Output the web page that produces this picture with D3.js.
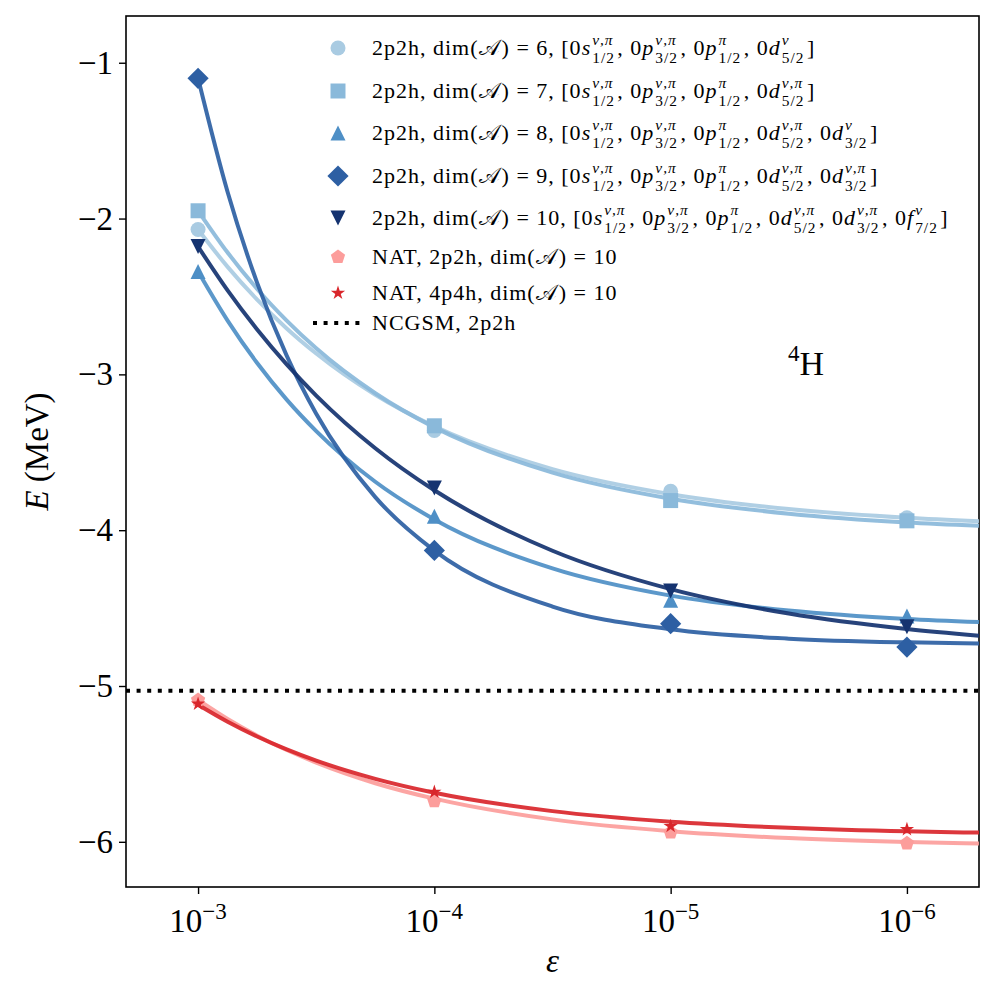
<!DOCTYPE html>
<html>
<head>
<meta charset="utf-8">
<title>4H energy vs epsilon</title>
<script src="https://cdn.jsdelivr.net/npm/d3@7"></script>
<style>
  body { margin: 0; background: #fff; }
  text { font-family: "Liberation Serif", "DejaVu Serif", serif; fill: #000; white-space: pre; }
</style>
</head>
<body>
<div id="chart"></div>
<script>
// ---- values ----
// computed points, at epsilon = 1e-3 .. 1e-6
const epsLog = [-3, -4, -5, -6];
const dim6  = [-2.07, -3.36, -3.75, -3.92];
const dim7  = [-1.95, -3.33, -3.81, -3.94];
const dim8  = [-2.34, -3.91, -4.45, -4.55];
const dim9  = [-1.10, -4.13, -4.60, -4.75];
const dim10 = [-2.18, -3.73, -4.39, -4.62];
const natA  = [-5.09, -5.74, -5.94, -6.01];
const natB  = [-5.115, -5.68, -5.90, -5.92];
const ncgsm = -5.03;

// fitted curves, sampled where they were read
const fitLog   = [-3, -3.125, -3.25, -3.375, -3.5, -3.75, -4, -4.5, -5, -5.5, -6, -6.305];
const fit6     = [-2.07, -2.31, -2.52, -2.705, -2.866, -3.131, -3.334, -3.608, -3.769, -3.864, -3.92, -3.942];
const fit7     = [-1.95, -2.218, -2.452, -2.655, -2.833, -3.121, -3.34, -3.631, -3.798, -3.894, -3.95, -3.971];
const fit8     = [-2.34, -2.655, -2.927, -3.162, -3.364, -3.689, -3.931, -4.245, -4.42, -4.516, -4.57, -4.59];
const fit9     = [-1.10, -1.83, -2.413, -2.88, -3.253, -3.788, -4.131, -4.49, -4.636, -4.696, -4.72, -4.727];
const fit10    = [-2.18, -2.461, -2.712, -2.936, -3.136, -3.474, -3.744, -4.132, -4.378, -4.535, -4.634, -4.677];
const fitNatA  = [-5.09, -5.212, -5.319, -5.411, -5.492, -5.624, -5.723, -5.856, -5.932, -5.976, -6.001, -6.011];
const fitNatB  = [-5.12, -5.229, -5.324, -5.407, -5.479, -5.596, -5.685, -5.803, -5.871, -5.91, -5.933, -5.941];

const yTicks = [-1, -2, -3, -4, -5, -6];
const xTicks = [-3, -4, -5, -6];

// {letter|sup|sub} is an orbital, @A the calligraphic A
const labels = [
  "2p2h, dim(@A) = 6, [0{s|ν,π|1/2}, 0{p|ν,π|3/2}, 0{p|π|1/2}, 0{d|ν|5/2}]",
  "2p2h, dim(@A) = 7, [0{s|ν,π|1/2}, 0{p|ν,π|3/2}, 0{p|π|1/2}, 0{d|ν,π|5/2}]",
  "2p2h, dim(@A) = 8, [0{s|ν,π|1/2}, 0{p|ν,π|3/2}, 0{p|π|1/2}, 0{d|ν,π|5/2}, 0{d|ν|3/2}]",
  "2p2h, dim(@A) = 9, [0{s|ν,π|1/2}, 0{p|ν,π|3/2}, 0{p|π|1/2}, 0{d|ν,π|5/2}, 0{d|ν,π|3/2}]",
  "2p2h, dim(@A) = 10, [0{s|ν,π|1/2}, 0{p|ν,π|3/2}, 0{p|π|1/2}, 0{d|ν,π|5/2}, 0{d|ν,π|3/2}, 0{f|ν|7/2}]",
  "NAT, 2p2h, dim(@A) = 10",
  "NAT, 4p4h, dim(@A) = 10"
];
const refLabel = "NCGSM, 2p2h";

const colors = ["#a9cbe2", "#8ab9da", "#4e8fc6", "#2d5fa3", "#153370", "#fc9d9b", "#d9262b"];
const shapes = ["circle", "square", "triangle", "diamond", "tridown", "pentagon", "star"];

const series = [dim6, dim7, dim8, dim9, dim10, natA, natB].map((pts, i) => ({
  pts: pts,
  fit: [fit6, fit7, fit8, fit9, fit10, fitNatA, fitNatB][i],
  color: colors[i],
  shape: shapes[i],
  label: labels[i]
}));

// ---- layout ----
const width = 997, height = 997;
const plot = {left: 126, right: 979, top: 16, bottom: 887};

const svg = d3.select("#chart").append("svg")
    .attr("width", width)
    .attr("height", height);

const x = d3.scaleLog()
    .domain([Math.pow(10, -2.695), Math.pow(10, -6.305)])
    .range([plot.left, plot.right]);
const y = d3.scaleLinear()
    .domain([-0.70, -6.29])
    .range([plot.top, plot.bottom]);

function markerPath(shape, s) {
  const p = d3.path();
  if (shape === "circle") {
    p.arc(0, 0, s, 0, 2 * Math.PI);
  } else if (shape === "square") {
    p.rect(-s, -s, 2 * s, 2 * s);
  } else if (shape === "triangle") {
    p.moveTo(0, -s); p.lineTo(s, s); p.lineTo(-s, s); p.closePath();
  } else if (shape === "tridown") {
    p.moveTo(0, s); p.lineTo(s, -s); p.lineTo(-s, -s); p.closePath();
  } else if (shape === "diamond") {
    const d = s * Math.SQRT2;
    p.moveTo(0, -d); p.lineTo(d, 0); p.lineTo(0, d); p.lineTo(-d, 0); p.closePath();
  } else if (shape === "pentagon") {
    for (let k = 0; k < 5; k++) {
      const a = -Math.PI / 2 + k * 2 * Math.PI / 5;
      k === 0 ? p.moveTo(s * Math.cos(a), s * Math.sin(a)) : p.lineTo(s * Math.cos(a), s * Math.sin(a));
    }
    p.closePath();
  } else if (shape === "star") {
    for (let k = 0; k < 10; k++) {
      const a = -Math.PI / 2 + k * Math.PI / 5;
      const r = k % 2 === 0 ? s : s * 0.381966;
      k === 0 ? p.moveTo(r * Math.cos(a), r * Math.sin(a)) : p.lineTo(r * Math.cos(a), r * Math.sin(a));
    }
    p.closePath();
  }
  return p.toString();
}

// ---- axes ----
const yAxis = d3.axisLeft(y)
    .tickValues(yTicks)
    .tickSize(7)
    .tickPadding(6)
    .tickFormat(d => "\u2212" + Math.abs(d));
const yG = svg.append("g")
    .attr("transform", `translate(${plot.left},0)`)
    .call(yAxis);
yG.select(".domain").remove();
yG.selectAll(".tick line").attr("stroke", "#000").attr("stroke-width", 1.4);
yG.selectAll(".tick text")
    .attr("fill", "#000")
    .style("font-size", "33px")
    .style("font-family", "'Liberation Serif', serif");

const xAxis = d3.axisBottom(x)
    .tickValues(xTicks.map(e => Math.pow(10, e)))
    .tickSize(7)
    .tickFormat("");
const xG = svg.append("g")
    .attr("transform", `translate(0,${plot.bottom})`)
    .call(xAxis);
xG.select(".domain").remove();
xG.selectAll(".tick line").attr("stroke", "#000").attr("stroke-width", 1.4);

xTicks.forEach(e => {
  const t = svg.append("text")
      .attr("x", x(Math.pow(10, e)))
      .attr("y", 932)
      .attr("text-anchor", "middle")
      .style("font-size", "33px");
  t.append("tspan").text("10");
  t.append("tspan")
      .attr("dy", -13)
      .style("font-size", "23px")
      .text("\u2212" + Math.abs(e));
});

// frame
svg.append("rect")
    .attr("x", plot.left)
    .attr("y", plot.top)
    .attr("width", plot.right - plot.left)
    .attr("height", plot.bottom - plot.top)
    .attr("fill", "none")
    .attr("stroke", "#000")
    .attr("stroke-width", 1.6);

// axis labels
svg.append("text")
    .attr("x", (plot.left + plot.right) / 2)
    .attr("y", 972)
    .attr("text-anchor", "middle")
    .style("font-size", "33px")
    .style("font-style", "italic")
    .text("\u03b5");

const yl = svg.append("text")
    .attr("transform", `translate(48,${(plot.top + plot.bottom) / 2}) rotate(-90)`)
    .attr("text-anchor", "middle")
    .style("font-size", "33px");
yl.append("tspan").style("font-style", "italic").text("E");
yl.append("tspan").text(" (MeV)");

// ---- curves and points ----
const plotG = svg.append("g");

const line = d3.line()
    .x(d => x(Math.pow(10, d[0])))
    .y(d => y(d[1]))
    .curve(d3.curveMonotoneX);

series.forEach(s => {
  plotG.append("path")
      .datum(fitLog.map((l, i) => [l, s.fit[i]]))
      .attr("d", line)
      .attr("fill", "none")
      .attr("stroke", s.color)
      .attr("stroke-opacity", 0.92)
      .attr("stroke-width", 4);
});

plotG.append("line")
    .attr("x1", plot.left)
    .attr("x2", plot.right)
    .attr("y1", y(ncgsm))
    .attr("y2", y(ncgsm))
    .attr("stroke", "#000")
    .attr("stroke-width", 4)
    .attr("stroke-dasharray", "4,6.6");

series.forEach(s => {
  plotG.selectAll(null)
      .data(epsLog.map((l, i) => [l, s.pts[i]]))
      .enter()
      .append("path")
      .attr("transform", d => `translate(${x(Math.pow(10, d[0]))},${y(d[1])})`)
      .attr("d", markerPath(s.shape, 7.5))
      .attr("fill", s.color);
});

// ---- legend ----
// one <text> per label, every piece a tspan placed by hand
const legendSpacing = 1.0;
function richText(g, str, x0, base, fs) {
  const parts = str.split(/(\{[a-z]\|[^|]*\|[^}]*\}|@A)/).filter(p => p.length);
  const txt = g.append("text")
      .style("font-size", fs + "px")
      .style("letter-spacing", legendSpacing + "px");
  let cx = x0;
  const put = (s, xx, yy, size, italic) => {
    const t = txt.append("tspan")
        .attr("x", xx)
        .attr("y", yy)
        .style("font-size", size + "px")
        .style("font-style", italic ? "italic" : "normal")
        .text(s);
    return t.node().getComputedTextLength();
  };
  parts.forEach(p => {
    if (p === "@A") {
      cx += put("\ud835\udc9c", cx, base, fs, false) + 1;
    } else if (p[0] === "{") {
      const [letter, sup, sub] = p.slice(1, -1).split("|");
      cx += put(letter, cx, base, fs, true) + 1;
      // scripts kept small enough that their boxes do not touch
      const w1 = put(sup, cx, base - 0.45 * fs, 0.7 * fs, true);
      const w2 = put(sub, cx, base + 0.35 * fs, 0.7 * fs, false);
      cx += Math.max(w1, w2) + 2.5;
    } else {
      cx += put(p, cx, base, fs, false);
    }
  });
}

const legendRows = [48, 91, 133, 176, 218, 257, 293];
const legendG = svg.append("g");
series.forEach((s, i) => {
  legendG.append("path")
      .attr("transform", `translate(338,${legendRows[i]})`)
      .attr("d", markerPath(s.shape, 7.5))
      .attr("fill", s.color);
  richText(legendG, s.label, 372, legendRows[i] + 7, 22);
});
legendG.append("line")
    .attr("x1", 313).attr("x2", 361)
    .attr("y1", 323).attr("y2", 323)
    .attr("stroke", "#000")
    .attr("stroke-width", 4)
    .attr("stroke-dasharray", "4,6.6");
richText(legendG, refLabel, 372, 330, 22);

// nucleus tag
const tag = svg.append("text")
    .attr("x", 788)
    .attr("y", 375)
    .style("font-size", "34px");
tag.append("tspan").attr("dy", -14).style("font-size", "23px").text("4");
tag.append("tspan").attr("dy", 14).text("H");
</script>
</body>
</html>
